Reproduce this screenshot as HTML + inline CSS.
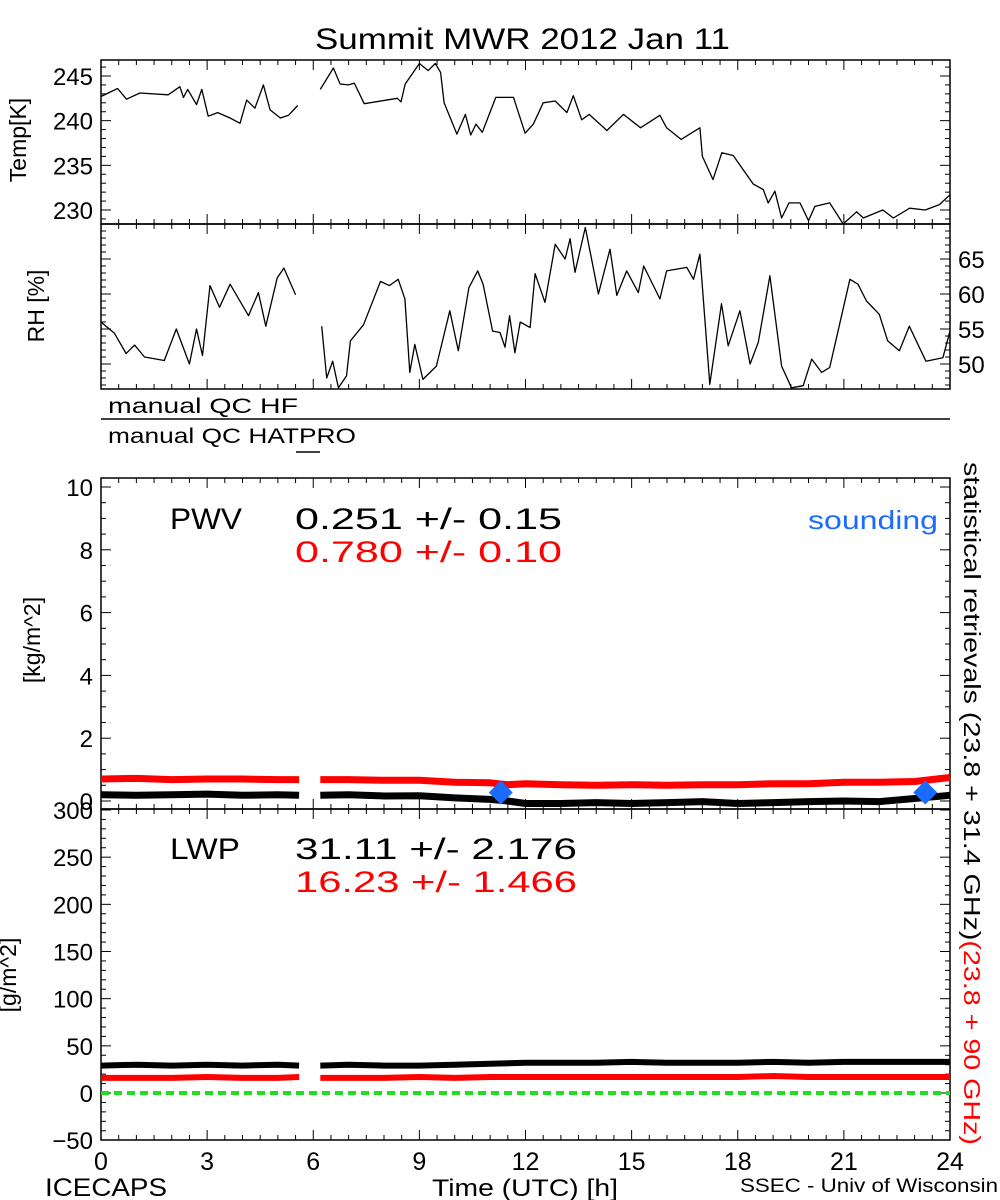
<!DOCTYPE html>
<html><head><meta charset="utf-8"><title>Summit MWR 2012 Jan 11</title>
<style>
html,body{margin:0;padding:0;background:#fff;}
svg{display:block;font-family:"Liberation Sans",sans-serif;}
</style></head>
<body>
<svg id="chart" width="1000" height="1200" viewBox="0 0 1000 1200" xmlns="http://www.w3.org/2000/svg">
<rect x="0" y="0" width="1000" height="1200" fill="#fff"/>
<text x="315" y="49" font-size="30" textLength="415" lengthAdjust="spacingAndGlyphs">Summit MWR 2012 Jan 11</text>
<g id="plots"></g>
<text x="108" y="413" font-size="21" textLength="190" lengthAdjust="spacingAndGlyphs">manual QC HF</text>
<line x1="101" y1="419" x2="950" y2="419" stroke="#000" stroke-width="1.5"/>
<text x="108" y="443" font-size="21" textLength="248" lengthAdjust="spacingAndGlyphs">manual QC HATPRO</text>
<line x1="296" y1="452" x2="320" y2="452" stroke="#000" stroke-width="1.5"/>
<text x="170" y="529" font-size="30" textLength="72" lengthAdjust="spacingAndGlyphs">PWV</text>
<text x="295" y="529" font-size="30" textLength="267" lengthAdjust="spacingAndGlyphs">0.251 +/-  0.15</text>
<text x="295" y="562" font-size="30" fill="#ff0000" textLength="267" lengthAdjust="spacingAndGlyphs">0.780 +/-  0.10</text>
<text x="808" y="529" font-size="26" fill="#1a6cff" textLength="130" lengthAdjust="spacingAndGlyphs">sounding</text>
<text x="170" y="859" font-size="30" textLength="70" lengthAdjust="spacingAndGlyphs">LWP</text>
<text x="295" y="859" font-size="30" textLength="282" lengthAdjust="spacingAndGlyphs">31.11 +/-  2.176</text>
<text x="295" y="892" font-size="30" fill="#ff0000" textLength="282" lengthAdjust="spacingAndGlyphs">16.23 +/-  1.466</text>
<text transform="translate(26,140) rotate(-90)" font-size="23" text-anchor="middle">Temp[K]</text>
<text transform="translate(44,306) rotate(-90)" font-size="23" text-anchor="middle">RH [%]</text>
<text transform="translate(40,640) rotate(-90)" font-size="23" text-anchor="middle">[kg/m^2]</text>
<text transform="translate(16,975) rotate(-90)" font-size="23" text-anchor="middle">[g/m^2]</text>
<text transform="translate(964,462) rotate(90)" font-size="23" textLength="683" lengthAdjust="spacingAndGlyphs"><tspan fill="#000">statistical retrievals (23.8 + 31.4 GHz)</tspan><tspan fill="#ff0000">(23.8 + 90 GHz)</tspan></text>
<text x="45" y="1196" font-size="25" textLength="122" lengthAdjust="spacingAndGlyphs">ICECAPS</text>
<text x="432" y="1196" font-size="24" textLength="186" lengthAdjust="spacingAndGlyphs">Time (UTC) [h]</text>
<text x="740" y="1192" font-size="19" textLength="258" lengthAdjust="spacingAndGlyphs">SSEC - Univ of Wisconsin</text>
</svg>
<script>
const tempHours=[0,0.47,0.72,1.1,1.9,2.23,2.33,2.45,2.7,2.85,3.03,3.3,3.65,3.93,4.12,4.35,4.59,4.78,5.07,5.3,5.56,null,6.2,6.57,6.76,7.0,7.16,7.44,8.38,8.48,8.6,9.0,9.25,9.45,9.6,9.7,10.06,10.3,10.45,10.6,10.78,11.16,11.66,11.99,12.22,12.5,12.84,13.17,13.35,13.59,13.8,14.3,14.77,15.25,15.8,15.99,16.4,16.93,17.0,17.3,17.55,17.87,18.44,18.72,18.86,19.05,19.24,19.45,19.76,20.0,20.18,20.6,20.98,21.36,21.55,22.1,22.4,22.86,23.3,23.7,24];
const tempValues=[242.7,243.6,242.4,243.1,242.9,243.8,242.6,243.5,241.8,243.5,240.5,240.9,240.3,239.7,242.3,241.4,244.0,241.2,240.3,240.6,241.7,null,243.5,245.9,244.1,244.0,244.2,241.9,242.5,242.1,244.1,246.4,245.6,246.4,245.4,242.0,238.5,240.7,238.4,239.6,238.7,242.6,242.6,238.6,239.6,242.0,242.2,240.9,242.8,240.1,240.7,238.9,240.7,239.2,240.6,239.2,237.9,239.2,236.0,233.4,236.4,236.1,232.9,232.3,230.8,232.1,229.1,230.8,230.8,228.8,230.4,230.8,228.4,229.8,229.1,230.0,229.1,230.2,230.0,230.6,231.7];
const rhHours=[0,0.38,0.71,0.95,1.23,1.79,2.13,2.5,2.7,2.87,3.08,3.35,3.65,4.17,4.45,4.66,4.98,5.17,5.5,null,6.24,6.38,6.55,6.71,6.94,7.05,7.42,7.9,8.15,8.4,8.59,8.73,8.87,9.1,9.48,9.86,10.1,10.4,10.65,10.8,11.07,11.28,11.42,11.55,11.7,11.85,12.13,12.27,12.55,12.84,13.12,13.26,13.4,13.69,13.84,14.06,14.39,14.58,14.86,15.19,15.34,15.8,15.99,16.56,16.75,16.93,17.21,17.54,17.73,18.06,18.35,18.58,18.91,19.24,19.52,19.85,20.09,20.37,20.6,21.17,21.4,21.64,22.0,22.24,22.57,22.85,23.32,23.8,24];
const rhValues=[56.0,54.4,51.5,52.7,51.0,50.5,55.0,50.0,55.0,51.2,61.2,58.1,61.4,56.9,60.2,55.4,62.3,63.7,59.9,null,55.4,48.0,50.4,46.6,48.3,53.3,55.6,61.8,61.2,62.1,59.3,48.8,52.8,47.8,49.7,57.6,51.9,60.9,63.3,61.4,54.7,54.5,52.4,56.9,51.6,56.0,55.2,62.9,58.8,67.1,65.0,67.9,63.1,69.5,65.7,60.0,66.4,59.8,63.3,60.2,64.0,59.3,63.3,63.8,62.1,65.7,47.1,58.6,52.6,57.6,50.0,53.1,62.6,49.7,46.6,46.9,50.7,48.8,49.5,62.1,61.4,59.0,57.1,53.3,51.9,55.4,50.4,50.9,54.7];
const pwvHours=[0,1,2,3,4,5,5.6,null,6.2,7,8,9,10,11,11.5,12,13,14,15,16,17,18,19,20,21,22,23,24];
const pwvBlack=[0.2,0.18,0.2,0.22,0.18,0.2,0.18,null,0.18,0.2,0.16,0.17,0.1,0.05,0.0,-0.08,-0.08,-0.05,-0.08,-0.05,-0.02,-0.08,-0.05,-0.02,0.0,-0.02,0.08,0.18];
const pwvRed=[0.7,0.72,0.68,0.7,0.7,0.68,0.68,null,0.68,0.68,0.66,0.66,0.6,0.58,0.52,0.55,0.52,0.5,0.52,0.5,0.52,0.52,0.55,0.55,0.6,0.6,0.62,0.75];
const soundingHours=[11.3,23.3];
const soundingValues=[0.27,0.27];
const lwpHours=[0,1,2,3,4,5,5.6,null,6.2,7,8,9,10,11,12,13,14,15,16,17,18,19,20,21,22,23,24];
const lwpBlack=[29,30,29,30,29,30,29,null,29,30,29,29,30,31,32,32,32,33,32,32,32,33,32,33,33,33,33];
const lwpRed=[16,16,16,17,16,16,17,null,16,16,16,17,16,17,17,17,17,17,17,17,17,18,17,17,17,17,17];
const tempTicks=[230,235,240,245];
const rhTicks=[50,55,60,65];
const pwvTicks=[0,2,4,6,8,10];
const lwpTicks=[-50,0,50,100,150,200,250,300];
const xTicks=[0,3,6,9,12,15,18,21,24];

const NS='http://www.w3.org/2000/svg';
const G=document.getElementById('plots');
const X0=101,X1=950;
function xs(h){return X0+(h/24)*(X1-X0);}
function mk(tag,attrs){const e=document.createElementNS(NS,tag);for(const k in attrs)e.setAttribute(k,attrs[k]);G.appendChild(e);return e;}
function lin(d0,d1,r0,r1){return v=>r0+(v-d0)*(r1-r0)/(d1-d0);}
const panels=[
 {name:'temp',top:60,bot:224,ys:lin(245,230,76,210),minor:1,ticks:tempTicks,side:'left'},
 {name:'rh',top:224,bot:389,ys:lin(65,50,259,364),minor:1,ticks:rhTicks,side:'right'},
 {name:'pwv',top:478,bot:809,ys:lin(0,10,801,487),minor:0.5,ticks:pwvTicks,side:'left'},
 {name:'lwp',top:809,bot:1140,ys:lin(0,300,1093,810),minor:10,ticks:lwpTicks,side:'left'}
];
function pathFrom(hours,vals,ys,clipTop,clipBot){
 let d='',pen=false;
 for(let i=0;i<hours.length;i++){
  if(hours[i]===null||vals[i]===null){pen=false;continue;}
  let y=Math.min(clipBot,Math.max(clipTop,ys(vals[i])));
  d+=(pen?'L':'M')+xs(hours[i]).toFixed(1)+' '+y.toFixed(1);pen=true;
 }
 return d;
}
panels.forEach(p=>{
 const frame=mk('rect',{x:X0,y:p.top,width:X1-X0,height:p.bot-p.top,fill:'none',stroke:'#000','stroke-width':1.5});
 
 
 for(let h=0;h<=24.001;h+=0.5){
  const major=Math.abs(h%3)<0.01;const L=major?10:5;
  const t1=mk('line',{x1:xs(h),y1:p.bot,x2:xs(h),y2:p.bot-L,stroke:'#000','stroke-width':1});
  
  
  const t2=mk('line',{x1:xs(h),y1:p.top,x2:xs(h),y2:p.top+L,stroke:'#000','stroke-width':1});
  
  
 }
 const vTop=p.ticks[p.ticks.length-1]+p.minor*40,vBot=p.ticks[0]-p.minor*40;
 for(let v=Math.ceil(vBot/p.minor)*p.minor;v<=vTop;v+=p.minor){
  const y=p.ys(v);if(y<p.top+1||y>p.bot-1)continue;
  const isMaj=p.ticks.some(t=>Math.abs(t-v)<1e-6);const L=isMaj?10:5;
  const a=mk('line',{x1:X0,y1:y,x2:X0+L,y2:y,stroke:'#000','stroke-width':1});
  
  
  const b=mk('line',{x1:X1,y1:y,x2:X1-L,y2:y,stroke:'#000','stroke-width':1});
  
  
 }
 p.ticks.forEach(v=>{
  const y=p.ys(v);
  const t=mk('text',{x:p.side==='left'?93:958,y:y+9,'font-size':24,'text-anchor':p.side==='left'?'end':'start'});
  t.textContent=String(v).replace('-','\u2212');
  
  
 });
});
const P={};panels.forEach(p=>P[p.name]=p);
function series(p,h,v,color,w,name){
 const e=mk('path',{d:pathFrom(h,v,p.ys,p.top,p.bot),fill:'none',stroke:color,'stroke-width':w,'stroke-linejoin':'round'});
 
 
}
series(P.temp,tempHours,tempValues,'#000',1.3,'temp-line');
series(P.rh,rhHours,rhValues,'#000',1.3,'rh-line');
series(P.pwv,pwvHours,pwvRed,'#ff0000',7,'pwv-red-series');
series(P.pwv,pwvHours,pwvBlack,'#000',7,'pwv-black-series');
series(P.lwp,lwpHours,lwpBlack,'#000',6,'lwp-black-series');
series(P.lwp,lwpHours,lwpRed,'#ff0000',6,'lwp-red-series');
const z=mk('line',{x1:X0,y1:P.lwp.ys(0),x2:X1,y2:P.lwp.ys(0),stroke:'#22dd22','stroke-width':4,'stroke-dasharray':'8 5'});


soundingHours.forEach((h,i)=>{
 const cx=xs(h),cy=P.pwv.ys(soundingValues[i]);
 const d=mk('polygon',{points:`${cx},${cy-12} ${cx+12},${cy} ${cx},${cy+12} ${cx-12},${cy}`,fill:'#1a6cff'});
 
 
});
xTicks.forEach(h=>{
 const t=mk('text',{x:xs(h),y:1170,'font-size':25,'text-anchor':'middle'});
 t.textContent=String(h);
 
 
});
</script>
</body></html>
